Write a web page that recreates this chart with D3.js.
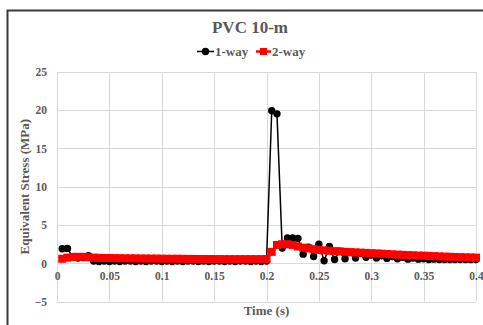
<!DOCTYPE html>
<html>
<head>
<meta charset="utf-8">
<script src="https://cdn.jsdelivr.net/npm/d3@7"></script>
<style>
  html, body { margin: 0; padding: 0; background: #fff; }
  svg { display: block; }
  svg text { font-family: "Liberation Serif", "Times New Roman", Times, "DejaVu Serif", serif !important; font-weight: bold; fill: #595959; }
</style>
</head>
<body>
<svg id="chart" width="483" height="325"></svg>
<script>
// Time samples (s), every 0.005 s
const times = d3.range(1, 81).map(i => +(i * 0.005).toFixed(3));

// Equivalent stress (MPa), one-way coupling
const oneWay = [
  1.9, 1.95, 0.8, 0.7, 0.75, 1.0, 0.3, 0.25, 0.3, 0.25,
  0.3, 0.25, 0.3, 0.3, 0.25, 0.3, 0.25, 0.3, 0.3, 0.25,
  0.3, 0.25, 0.3, 0.25, 0.3, 0.3, 0.25, 0.3, 0.25, 0.3,
  0.3, 0.25, 0.3, 0.25, 0.3, 0.3, 0.25, 0.3, 0.25, 0.3,
  19.9, 19.5, 2.0, 3.3, 3.3, 3.25, 1.2, 2.1, 0.9, 2.5,
  0.35, 2.2, 0.5, 1.6, 0.6, 1.4, 0.7, 1.3, 0.8, 1.1,
  0.7, 1.0, 0.65, 0.9, 0.6, 0.8, 0.55, 0.7, 0.55, 0.6,
  0.5, 0.55, 0.5, 0.5, 0.5, 0.5, 0.5, 0.5, 0.5, 0.5
];

// Equivalent stress (MPa), two-way coupling
const twoWay = [
  0.6, 0.75, 0.85, 0.85, 0.85, 0.8, 0.75, 0.72, 0.7, 0.7,
  0.68, 0.67, 0.66, 0.65, 0.65, 0.64, 0.63, 0.62, 0.62, 0.61,
  0.6, 0.6, 0.6, 0.59, 0.58, 0.58, 0.57, 0.57, 0.56, 0.56,
  0.56, 0.55, 0.55, 0.55, 0.55, 0.55, 0.55, 0.55, 0.55, 0.55,
  1.5, 2.4, 2.5, 2.5, 2.4, 2.2, 2.05, 1.95, 1.85, 1.75,
  1.7, 1.65, 1.6, 1.55, 1.5, 1.47, 1.43, 1.4, 1.37, 1.34,
  1.3, 1.26, 1.22, 1.18, 1.14, 1.11, 1.08, 1.05, 1.02, 1.0,
  0.97, 0.94, 0.91, 0.88, 0.86, 0.83, 0.81, 0.79, 0.77, 0.75
];

const xTicks = [0, 0.05, 0.1, 0.15, 0.2, 0.25, 0.3, 0.35, 0.4];
const yTicks = [-5, 0, 5, 10, 15, 20, 25];

const svg = d3.select("#chart");
const margin = { left: 57, right: 476, top: 71.7, bottom: 301.7 };

const x = d3.scaleLinear().domain([0, 0.4]).range([margin.left, margin.right]);
const y = d3.scaleLinear().domain([-5, 25]).range([margin.bottom, margin.top]);

// Chart frame
svg.append("rect")
  .attr("x", 7.5).attr("y", 10.5)
  .attr("width", 490).attr("height", 330)
  .attr("fill", "#fff").attr("stroke", "#3a3a3a").attr("stroke-width", 2);

// Gridlines
svg.append("g")
  .selectAll("line").data(yTicks).join("line")
  .attr("x1", margin.left).attr("x2", margin.right)
  .attr("y1", d => Math.round(y(d)) + 0.5).attr("y2", d => Math.round(y(d)) + 0.5)
  .attr("stroke", "#d9d9d9").attr("stroke-width", 1);
svg.append("g")
  .selectAll("line").data(xTicks).join("line")
  .attr("y1", margin.top).attr("y2", margin.bottom)
  .attr("x1", d => Math.round(x(d)) + 0.5).attr("x2", d => Math.round(x(d)) + 0.5)
  .attr("stroke", "#d9d9d9").attr("stroke-width", 1);

const serif = "'Liberation Serif', 'Times New Roman', Times, serif";

// Y axis labels
const yAxis = d3.axisLeft(y).tickValues(yTicks).tickSize(0).tickPadding(10).tickFormat(d3.format("d"));
svg.append("g").attr("transform", `translate(${margin.left},0)`).call(yAxis)
  .attr("font-family", serif)
  .call(g => g.select(".domain").remove())
  .selectAll("text").style("font-size", "11.5px").attr("fill", "#595959");

// X axis labels sit along the zero line
const xAxis = d3.axisBottom(x).tickValues(xTicks).tickSize(0).tickPadding(8).tickFormat(d => String(d));
svg.append("g").attr("transform", `translate(0,${y(0)})`).call(xAxis)
  .attr("font-family", serif)
  .call(g => g.select(".domain").remove())
  .selectAll("text").style("font-size", "11.5px").attr("fill", "#595959");

// Series
const pts1 = times.map((t, i) => [t, oneWay[i]]);
const pts2 = times.map((t, i) => [t, twoWay[i]]);
const line = d3.line().x(d => x(d[0])).y(d => y(d[1]));

const g1 = svg.append("g");
g1.append("path").datum(pts1).attr("d", line)
  .attr("fill", "none").attr("stroke", "#000").attr("stroke-width", 1.5);
g1.selectAll("circle").data(pts1).join("circle")
  .attr("cx", d => x(d[0])).attr("cy", d => y(d[1])).attr("r", 3.7).attr("fill", "#000");

const g2 = svg.append("g");
g2.append("path").datum(pts2).attr("d", line)
  .attr("fill", "none").attr("stroke", "#ff0000").attr("stroke-width", 3);
g2.selectAll("rect").data(pts2).join("rect")
  .attr("x", d => x(d[0]) - 4).attr("y", d => y(d[1]) - 4)
  .attr("width", 8).attr("height", 8).attr("fill", "#ff0000");

// Title
svg.append("text").attr("x", 250).attr("y", 33).attr("text-anchor", "middle")
  .style("font-size", "17px").text("PVC 10-m");

// Legend
const leg = svg.append("g");
leg.append("line").attr("x1", 197).attr("x2", 214).attr("y1", 51.5).attr("y2", 51.5)
  .attr("stroke", "#000").attr("stroke-width", 1.5);
leg.append("circle").attr("cx", 205.5).attr("cy", 51.5).attr("r", 3.7).attr("fill", "#000");
leg.append("text").attr("x", 215).attr("y", 56).style("font-size", "13px").text("1-way");
leg.append("line").attr("x1", 256).attr("x2", 271).attr("y1", 51.5).attr("y2", 51.5)
  .attr("stroke", "#ff0000").attr("stroke-width", 2.5);
leg.append("rect").attr("x", 260).attr("y", 48).attr("width", 7).attr("height", 7).attr("fill", "#ff0000");
leg.append("text").attr("x", 272).attr("y", 56).style("font-size", "13px").text("2-way");

// Axis titles
svg.append("text").attr("x", (margin.left + margin.right) / 2).attr("y", 315)
  .attr("text-anchor", "middle").style("font-size", "13px").text("Time (s)");
svg.append("text")
  .attr("transform", `translate(29,${(margin.top + margin.bottom) / 2}) rotate(-90)`)
  .attr("text-anchor", "middle").style("font-size", "13px").text("Equivalent Stress (MPa)");
</script>
</body>
</html>
